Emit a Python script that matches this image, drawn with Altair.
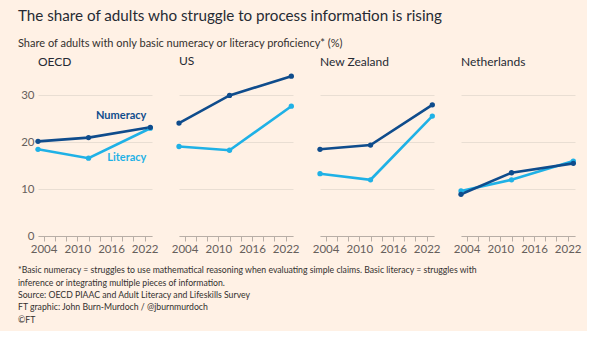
import altair as alt
import pandas as pd

countries = ["OECD", "US", "New Zealand", "Netherlands"]
years = [2003, 2012, 2023]
numeracy = {
    "OECD": [20.2, 21.0, 23.2],
    "US": [24.1, 30.0, 34.1],
    "New Zealand": [18.5, 19.4, 28.0],
    "Netherlands": [8.9, 13.5, 15.5],
}
literacy = {
    "OECD": [18.5, 16.6, 23.0],
    "US": [19.1, 18.3, 27.7],
    "New Zealand": [13.3, 12.0, 25.6],
    "Netherlands": [9.6, 12.0, 16.0],
}
series_names = ["Literacy", "Numeracy"]
series_colors = ["#1fb1e6", "#0f4c8c"]
x_ticks = list(range(2004, 2023, 2))
x_labels = [2004, 2010, 2016, 2022]
y_ticks = [0, 10, 20, 30]

title = "The share of adults who struggle to process information is rising"
subtitle = "Share of adults with only basic numeracy or literacy proficiency* (%)"
footnotes = [
    "*Basic numeracy = struggles to use mathematical reasoning when evaluating simple claims. Basic literacy = struggles with",
    "inference or integrating multiple pieces of information.",
    "Source: OECD PIAAC and Adult Literacy and Lifeskills Survey",
    "FT graphic: John Burn-Murdoch / @jburnmurdoch",
    "\u00a9FT",
]

rows = []
for c in countries:
    for s, vals in (("Literacy", literacy[c]), ("Numeracy", numeracy[c])):
        for y, v in zip(years, vals):
            rows.append({"country": c, "series": s, "year": y, "value": v})
df = pd.DataFrame(rows)

FONT = "Lato"
BG = "#fff1e5"
W, H = 114, 164

label_expr = "indexof([2004, 2010, 2016, 2022], datum.value) >= 0 ? datum.value : ''"

x_scale = alt.Scale(domain=[2003, 2023.3], nice=False, zero=False)
y_scale = alt.Scale(domain=[0, 35], nice=False)
color_enc = alt.Color(
    "series:N",
    scale=alt.Scale(domain=series_names, range=series_colors),
    legend=None,
)


def panel(c, first):
    d = df[df.country == c]
    x = alt.X(
        "year:Q",
        scale=x_scale,
        axis=alt.Axis(
            values=x_ticks,
            labelExpr=label_expr,
            title=None,
            grid=False,
            domain=True,
            domainColor="#b8aea6",
            ticks=True,
            tickColor="#b8aea6",
            tickSize=5,
            labelFontSize=11.5,
            labelColor="#66605c",
            labelFont=FONT,
            labelPadding=2,
            labelOverlap=False,
            labelFlush=False,
        ),
    )
    y = alt.Y(
        "value:Q",
        scale=y_scale,
        axis=alt.Axis(
            values=y_ticks,
            title=None,
            grid=True,
            gridColor="#e9ded3",
            gridWidth=1,
            domain=False,
            ticks=False,
            labels=first,
            labelFontSize=11.5,
            labelColor="#66605c",
            labelFont=FONT,
            labelPadding=4,
        ),
    )
    base = alt.Chart(d).encode(x=x, y=y, color=color_enc, order=alt.Order("year:Q"))
    lines = base.mark_line(strokeWidth=2.6).encode(detail="series:N")
    pts = base.mark_circle(size=28, opacity=1)
    layers = [lines, pts]
    if first:
        ann = pd.DataFrame(
            {
                "series": ["Numeracy", "Literacy"],
                "year": [2022.3, 2022.3],
                "value": [25.7, 16.7],
            }
        )
        txt = (
            alt.Chart(ann)
            .mark_text(align="right", fontWeight="bold", fontSize=11, font=FONT)
            .encode(x=x, y=y, text="series:N", color=color_enc)
        )
        layers.append(txt)
    return alt.layer(*layers).properties(
        width=W,
        height=H,
        title=alt.TitleParams(
            c,
            anchor="start",
            frame="group",
            font=FONT,
            fontSize=12,
            fontWeight="normal",
            color="#262a33",
            offset=3,
        ),
    )


panels = alt.hconcat(
    *[panel(c, i == 0) for i, c in enumerate(countries)], spacing=27, bounds="flush"
)

foot_df = pd.DataFrame({"line": footnotes, "i": list(range(len(footnotes)))})
foot = (
    alt.Chart(foot_df)
    .mark_text(align="left", baseline="middle", fontSize=8.7, font=FONT, color="#33302e")
    .encode(
        x=alt.value(-20),
        y=alt.Y("i:O", axis=None, scale=alt.Scale(paddingOuter=0, paddingInner=0)),
        text="line:N",
    )
    .properties(width=536, height=62)
)

chart = (
    alt.vconcat(panels, foot, spacing=9)
    .properties(
        title=alt.TitleParams(
            title,
            subtitle=subtitle,
            anchor="start",
            font=FONT,
            fontSize=15.2,
            fontWeight="normal",
            color="#262a33",
            subtitleFont=FONT,
            subtitleFontSize=11,
            subtitleColor="#33302e",
            subtitlePadding=14,
            offset=6,
        ),
        background=BG,
        padding={"left": 18, "top": 8, "right": 5, "bottom": 5},
    )
    .configure_view(stroke=None)
)

chart.save("out.html", embed_options={"renderer": "svg", "actions": False})
